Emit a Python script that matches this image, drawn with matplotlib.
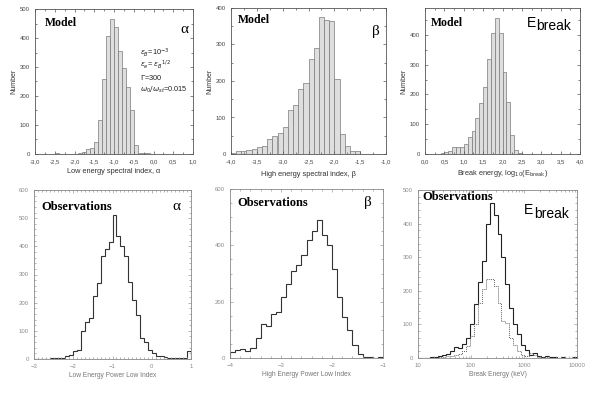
import numpy as np
import matplotlib
matplotlib.use('Agg')
import matplotlib.pyplot as plt
from matplotlib.ticker import MultipleLocator, FuncFormatter, LogLocator, NullFormatter

# model histograms (bin width 0.1)
alpha_edges = np.linspace(-3.0, 1.0, 41)
alpha_model = [0, 0, 0, 0, 0, 2, 1, 0, 0, 0,
               1, 3, 8, 17, 20, 40, 117, 260, 408, 465,
               437, 355, 295, 230, 152, 30, 3, 5, 4, 1,
               0, 0, 0, 0, 0, 0, 0, 0, 0, 0]

beta_edges = np.linspace(-4.0, -1.0, 31)
beta_model = [4, 7, 7, 12, 15, 18, 23, 40, 50, 57,
              75, 120, 133, 178, 195, 260, 290, 375, 367, 365,
              205, 55, 22, 8, 7, 0, 0, 0, 0, 0]

eb_edges = np.linspace(0.0, 4.0, 41)
eb_model = [0, 0, 1, 0, 2, 7, 9, 22, 24, 22,
            33, 56, 78, 120, 170, 226, 318, 407, 455, 407,
            275, 175, 65, 14, 4, 0, 0, 0, 0, 0,
            0, 0, 0, 0, 0, 0, 0, 0, 0, 0]

# observed histograms
alpha_obs = [1, 0, 1, 0, 2, 2, 3, 5, 10, 14,
             28, 33, 100, 130, 145, 225, 270, 365, 392, 415,
             510, 435, 400, 365, 275, 210, 155, 75, 60, 32,
             20, 12, 10, 8, 5, 5, 3, 3, 5, 30]

beta_obs = [20, 28, 33, 25, 35, 70, 120, 112, 155, 162,
            215, 262, 310, 330, 365, 420, 450, 490, 435, 400,
            315, 215, 145, 98, 45, 15, 3, 2, 0, 5]

eb_obs_edges = np.logspace(1, 4, 41)
eb_obs_solid = [0, 1, 0, 2, 3, 5, 8, 12, 22, 33,
                30, 42, 60, 100, 160, 225, 290, 400, 460, 425,
                370, 300, 220, 150, 100, 70, 40, 25, 10, 15,
                5, 3, 5, 3, 2, 1, 2, 1, 0, 3]
eb_obs_dot = [0, 0, 0, 0, 1, 2, 3, 5, 5, 8,
              12, 20, 35, 65, 100, 165, 205, 235, 235, 215,
              165, 110, 105, 60, 40, 20, 10, 5, 15, 10,
              3, 2, 3, 1, 1, 0, 1, 0, 0, 1]

BAR_FC = '#dedede'
BAR_EC = '#7a7a7a'
SERIF = ['Liberation Serif', 'DejaVu Serif']
SANS = ['Liberation Sans', 'DejaVu Sans']

plt.rcParams['font.family'] = SANS

fig = plt.figure(figsize=(5.97, 3.96), dpi=100)

comma = FuncFormatter(lambda v, p: ('%.1f' % v).replace('.', ','))


def fx(px):
    return px / 597


def fy(py):
    return 1 - py / 396


def model_axes(l, t, r, b):
    ax = fig.add_axes([fx(l), fy(b), fx(r - l), fy(t) - fy(b)])
    ax.tick_params(direction='in', which='both', top=True, right=True,
                   labelsize=4.3, labelcolor='#444', color='#555', length=2.2, width=0.5)
    ax.tick_params(which='minor', length=1.2)
    for s in ax.spines.values():
        s.set_color('#555')
        s.set_linewidth(0.6)
    ax.set_ylabel('Number', fontsize=5, color='#333', labelpad=2)
    return ax


def obs_axes(l, t, r, b):
    ax = fig.add_axes([fx(l), fy(b), fx(r - l), fy(t) - fy(b)])
    ax.tick_params(direction='in', which='both', top=True, right=True,
                   labelsize=4.3, labelcolor='#8a8a8a', color='#999', length=2.5, width=0.5)
    ax.tick_params(which='minor', length=1.3)
    for s in ax.spines.values():
        s.set_color('#888')
        s.set_linewidth(0.6)
    return ax


# --- top left: model alpha
ax = model_axes(35, 9, 193, 154)
ax.bar(alpha_edges[:-1], alpha_model, width=0.1, align='edge',
       facecolor=BAR_FC, edgecolor=BAR_EC, linewidth=0.5)
ax.set_xlim(-3, 1)
ax.set_ylim(0, 500)
ax.xaxis.set_major_locator(MultipleLocator(0.5))
ax.xaxis.set_minor_locator(MultipleLocator(0.25))
ax.yaxis.set_major_locator(MultipleLocator(100))
ax.yaxis.set_minor_locator(MultipleLocator(50))
ax.xaxis.set_major_formatter(comma)
ax.set_xlabel('Low energy spectral index, α', fontsize=5.3, color='#333', labelpad=3)
ax.text(0.06, 0.9, 'Model', transform=ax.transAxes, family=SERIF, fontweight='bold',
        fontsize=8.5, va='center')
ax.text(0.97, 0.86, 'α', transform=ax.transAxes, family=SERIF, fontsize=11,
        ha='right', va='center')
params = [r'$\epsilon_B$=10$^{-3}$', r'$\epsilon_e$= $\epsilon_B$$^{1/2}$',
          r'$\Gamma$=300', r'$\omega_0/\omega_{st}$=0.015']
for i, s in enumerate(params):
    ax.text(0.665, 0.70 - i * 0.085, s, transform=ax.transAxes, fontsize=5.3,
            color='#222', va='center')

# --- top middle: model beta
ax = model_axes(231, 8, 386, 154)
ax.bar(beta_edges[:-1], beta_model, width=0.1, align='edge',
       facecolor=BAR_FC, edgecolor=BAR_EC, linewidth=0.5)
ax.set_xlim(-4, -1)
ax.set_ylim(0, 400)
ax.xaxis.set_major_locator(MultipleLocator(0.5))
ax.xaxis.set_minor_locator(MultipleLocator(0.25))
ax.yaxis.set_major_locator(MultipleLocator(100))
ax.yaxis.set_minor_locator(MultipleLocator(50))
ax.xaxis.set_major_formatter(comma)
ax.set_xlabel('High energy spectral index, β', fontsize=5.3, color='#333', labelpad=5)
ax.text(0.045, 0.92, 'Model', transform=ax.transAxes, family=SERIF, fontweight='bold',
        fontsize=8.5, va='center')
ax.text(0.96, 0.84, 'β', transform=ax.transAxes, family=SERIF, fontsize=11,
        ha='right', va='center')

# --- top right: model Ebreak
ax = model_axes(425, 8, 580, 154)
ax.bar(eb_edges[:-1], eb_model, width=0.1, align='edge',
       facecolor=BAR_FC, edgecolor=BAR_EC, linewidth=0.5)
ax.set_xlim(0, 4)
ax.set_ylim(0, 490)
ax.xaxis.set_major_locator(MultipleLocator(0.5))
ax.xaxis.set_minor_locator(MultipleLocator(0.25))
ax.yaxis.set_major_locator(MultipleLocator(100))
ax.yaxis.set_minor_locator(MultipleLocator(50))
ax.xaxis.set_major_formatter(comma)
ax.set_xlabel(r'Break energy, log$_{10}$(E$_{\rm break}$)', fontsize=5.3, color='#333', labelpad=3)
ax.text(0.04, 0.9, 'Model', transform=ax.transAxes, family=SERIF, fontweight='bold',
        fontsize=8.5, va='center')
ax.text(0.655, 0.9, 'E', transform=ax.transAxes, fontsize=10, va='center')
ax.text(0.72, 0.875, 'break', transform=ax.transAxes, fontsize=10, va='center')

# --- bottom left: observed alpha
ax = obs_axes(34, 190, 191, 359)
ax.stairs(alpha_obs, alpha_edges, color='#333', linewidth=0.8)
ax.set_xlim(-3, 1)
ax.set_ylim(0, 600)
ax.xaxis.set_major_locator(MultipleLocator(1))
ax.xaxis.set_minor_locator(MultipleLocator(0.1))
ax.yaxis.set_major_locator(MultipleLocator(100))
ax.yaxis.set_minor_locator(MultipleLocator(20))
ax.xaxis.set_major_formatter(FuncFormatter(lambda v, p: '%d' % v if v >= 0 else '\u2212%d' % -v))
ax.set_xlabel('Low Energy Power Low Index', fontsize=4.8, color='#777', labelpad=2)
ax.text(0.05, 0.9, 'Observations', transform=ax.transAxes, family=SERIF,
        fontweight='bold', fontsize=9, va='center')
ax.text(0.91, 0.9, 'α', transform=ax.transAxes, family=SERIF, fontsize=11,
        ha='center', va='center')

# --- bottom middle: observed beta
ax = obs_axes(230, 189, 383, 358)
ax.stairs(beta_obs, beta_edges, color='#333', linewidth=0.8)
ax.set_xlim(-4, -1)
ax.set_ylim(0, 600)
ax.xaxis.set_major_locator(MultipleLocator(1))
ax.xaxis.set_minor_locator(MultipleLocator(0.2))
ax.yaxis.set_major_locator(MultipleLocator(200))
ax.yaxis.set_minor_locator(MultipleLocator(50))
ax.xaxis.set_major_formatter(FuncFormatter(lambda v, p: '\u2212%d' % -v))
ax.set_xlabel('High Energy Power Low Index', fontsize=4.8, color='#777', labelpad=2)
ax.text(0.05, 0.92, 'Observations', transform=ax.transAxes, family=SERIF,
        fontweight='bold', fontsize=9, va='center')
ax.text(0.9, 0.92, 'β', transform=ax.transAxes, family=SERIF, fontsize=11,
        ha='center', va='center')

# --- bottom right: observed Ebreak
ax = obs_axes(418, 190, 577, 358)
ax.stairs(eb_obs_solid, eb_obs_edges, color='#222', linewidth=0.8)
ax.stairs(eb_obs_dot, eb_obs_edges, color='#666', linewidth=0.7, linestyle=(0, (1, 1)))
ax.set_xscale('log')
ax.set_xlim(10, 10000)
ax.set_ylim(0, 500)
ax.xaxis.set_major_locator(LogLocator(base=10))
ax.xaxis.set_minor_locator(LogLocator(base=10, subs=np.arange(2, 10)))
ax.xaxis.set_minor_formatter(NullFormatter())
ax.xaxis.set_major_formatter(FuncFormatter(lambda v, p: '%d' % v))
ax.yaxis.set_major_locator(MultipleLocator(100))
ax.yaxis.set_minor_locator(MultipleLocator(20))
ax.set_xlabel('Break Energy (keV)', fontsize=4.8, color='#777', labelpad=2)
ax.text(0.03, 0.96, 'Observations', transform=ax.transAxes, family=SERIF,
        fontweight='bold', fontsize=9, va='center')
ax.text(0.665, 0.88, 'E', transform=ax.transAxes, fontsize=10, va='center')
ax.text(0.73, 0.855, 'break', transform=ax.transAxes, fontsize=10, va='center')

fig.savefig('out.png', dpi=100)
